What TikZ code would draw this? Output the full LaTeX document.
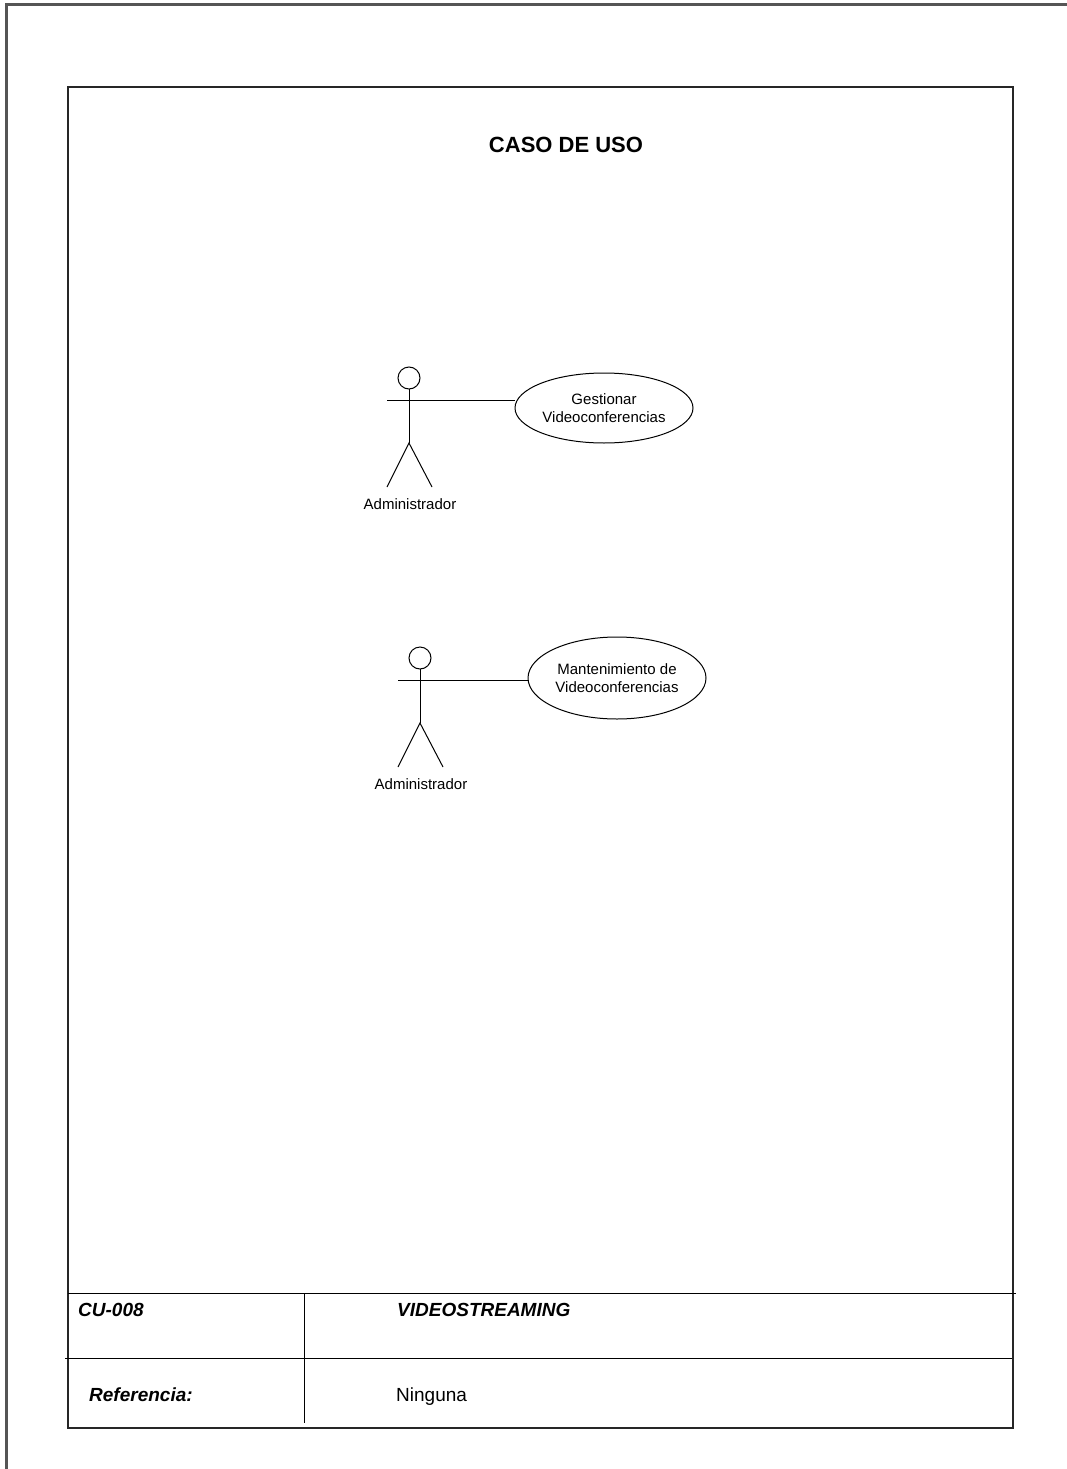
\documentclass[tikz,border=0pt]{standalone}
\usepackage{fontspec}
\setmainfont{Liberation Sans}
\usetikzlibrary{positioning,calc,shapes.geometric}
\definecolor{framegray}{RGB}{85,85,85}
\tikzset{
  pageline/.style={framegray, line width=3pt},
  frameline/.style={black!85, line width=2pt},
  cellline/.style={black, line width=1pt},
  stick/.style={black, line width=1pt},
  usecase/.style={draw, stick, ellipse, inner sep=0pt, align=center,
                  font=\fontsize{15}{18}\selectfont},
  actorlbl/.style={font=\fontsize{15}{18}\selectfont},
  celltxt/.style={anchor=base west, inner sep=0pt, font=\fontsize{19}{22}\selectfont},
}
% stick figure: #1 name, #2 head centre
\newcommand{\usactor}[2]{%
  \begin{scope}[shift={#2}]
    \draw[stick] (0,0) circle (11);
    \draw[stick] (-22,22) -- (23,22);
    \draw[stick] (0,11) -- (0,65);
    \draw[stick] (-22,109) -- (0,65) -- (23,109);
    \coordinate (#1hand) at (23,22);
    \node[actorlbl] (#1lbl) at (1,126) {Administrador};
  \end{scope}}
\begin{document}
\begin{tikzpicture}[x=1pt, y=-1pt]
  \useasboundingbox (0,0) rectangle (1067,1469);
  % --- page and frame
  \draw[pageline] (1067,5) -- (6,5) -- (6,1469);
  \draw[frameline] (68,87) rectangle (1013,1428);
  \node[font=\fontsize{22}{26}\selectfont\bfseries, anchor=base] (title) at (566,153) {CASO DE USO};
  % --- use cases
  \usactor{adm}{(409,378)}
  \node[usecase, minimum width=178, minimum height=70] (gest) at (604,408)
       {Gestionar\\Videoconferencias};
  \draw[stick] (admhand) -- (admhand -| gest.west);
  \usactor{mant}{(420,658)}
  \node[usecase, minimum width=178, minimum height=82] (mantuc) at (617,678)
       {Mantenimiento de\\Videoconferencias};
  \draw[stick] (manthand) -- (manthand -| mantuc.west);
  % --- bottom table
  \draw[cellline] (68,1293) -- (1016,1293);
  \draw[cellline] (65,1358) -- (1012,1358);
  \draw[cellline] (304,1293) -- (304,1423);
  \node[celltxt, font=\fontsize{19}{22}\selectfont\bfseries\itshape] (code) at (78,1316) {CU-008};
  \node[celltxt, font=\fontsize{19}{22}\selectfont\bfseries\itshape] (proj) at (397,1316) {VIDEOSTREAMING};
  \node[celltxt, font=\fontsize{19}{22}\selectfont\bfseries\itshape] (ref) at (89,1401) {Referencia:};
  \node[celltxt] (refval) at (396,1401) {Ninguna};
\end{tikzpicture}
\end{document}
